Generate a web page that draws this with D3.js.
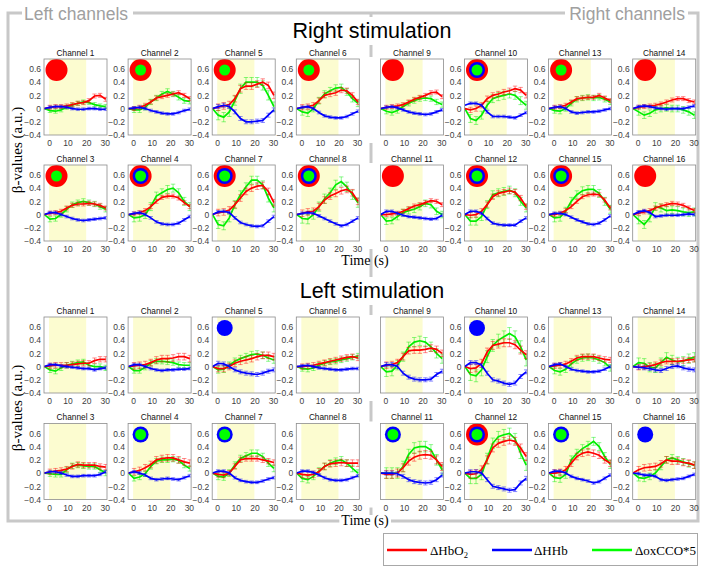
<!DOCTYPE html>
<html><head><meta charset="utf-8">
<script src="https://cdn.jsdelivr.net/npm/d3@7"></script>
<style>body{margin:0;background:#fff}svg{display:block}</style>
</head><body>
<script>
// ---------------- data ----------------
const times = [-2.5, 0.5, 3.5, 6.5, 9.5, 12.5, 15.5, 18.5, 21.5, 24.5, 27.5, 30.5];
const xTicks = [0, 10, 20, 30];
const yTicks = [-0.4, -0.2, 0, 0.2, 0.4, 0.6];
const stimWindow = [0, 20];
const row1Channels = [1, 2, 5, 6, 9, 10, 13, 14];
const row2Channels = [3, 4, 7, 8, 11, 12, 15, 16];
const seriesNames = ["ΔHbO2", "ΔHHb", "ΔoxCCO*5"];

// channel order 1..16
const rightHbO2 = [
 [0,0.02,0.03,0.03,0.04,0.06,0.08,0.09,0.12,0.19,0.2,0.14],
 [0,0.0,0.02,0.05,0.1,0.16,0.18,0.2,0.22,0.24,0.2,0.15],
 [0,0.02,0.03,0.05,0.1,0.14,0.16,0.16,0.17,0.16,0.14,0.1],
 [0,0.01,0.03,0.06,0.12,0.2,0.26,0.28,0.28,0.25,0.18,0.12],
 [0,0.02,0.04,0.06,0.15,0.3,0.34,0.34,0.37,0.4,0.35,0.2],
 [0,0.02,0.03,0.05,0.12,0.2,0.22,0.24,0.28,0.27,0.2,0.1],
 [0,0.03,0.04,0.07,0.15,0.25,0.35,0.4,0.43,0.44,0.35,0.18],
 [0,0.02,0.04,0.05,0.12,0.22,0.28,0.32,0.36,0.38,0.33,0.2],
 [0,0.02,0.03,0.04,0.06,0.1,0.14,0.17,0.2,0.24,0.25,0.18],
 [0,-0.02,0.0,0.05,0.15,0.2,0.22,0.25,0.27,0.3,0.28,0.2],
 [0,0.0,0.01,0.02,0.05,0.09,0.13,0.15,0.18,0.21,0.2,0.15],
 [0,-0.01,0.0,0.05,0.15,0.27,0.32,0.34,0.36,0.34,0.25,0.12],
 [0,0.02,0.03,0.05,0.1,0.15,0.16,0.17,0.17,0.2,0.16,0.12],
 [0,0.02,0.03,0.04,0.05,0.07,0.1,0.13,0.15,0.15,0.12,0.1],
 [0,0.0,0.02,0.06,0.12,0.2,0.27,0.3,0.31,0.3,0.22,0.1],
 [0,0.02,0.04,0.06,0.1,0.13,0.15,0.17,0.16,0.14,0.1,0.06]
];
const rightHHb = [
 [0,0.02,0.03,0.03,0.02,0.0,-0.01,-0.01,0,0,-0.01,-0.01],
 [0,0.01,0.02,0,-0.03,-0.05,-0.07,-0.08,-0.08,-0.06,-0.03,-0.01],
 [0,0.03,0.03,0.0,-0.03,-0.06,-0.08,-0.09,-0.08,-0.07,-0.06,-0.05],
 [0,0.02,0.03,0.0,-0.05,-0.11,-0.14,-0.15,-0.15,-0.13,-0.08,-0.03],
 [0,0.03,0.05,0.03,-0.05,-0.15,-0.2,-0.2,-0.19,-0.18,-0.1,-0.02],
 [0,0.02,0.03,0.0,-0.06,-0.11,-0.13,-0.14,-0.14,-0.12,-0.08,-0.04],
 [0,0.04,0.05,0.03,-0.05,-0.12,-0.15,-0.17,-0.18,-0.17,-0.1,-0.03],
 [0,0.02,0.03,0.02,-0.02,-0.06,-0.1,-0.14,-0.17,-0.15,-0.1,-0.05],
 [0,0.02,0.03,0.01,-0.02,-0.05,-0.07,-0.08,-0.09,-0.08,-0.05,-0.02],
 [0.05,0.08,0.08,0.05,-0.05,-0.12,-0.12,-0.12,-0.13,-0.14,-0.1,-0.06],
 [0,0.05,0.05,0.02,-0.01,-0.03,-0.04,-0.05,-0.06,-0.07,-0.06,-0.01],
 [0,0.05,0.05,0.02,-0.06,-0.13,-0.15,-0.16,-0.16,-0.16,-0.1,-0.05],
 [0,0.02,0.03,0.0,-0.05,-0.07,-0.06,-0.05,-0.05,-0.04,-0.02,0.0],
 [0,0.03,0.04,0.03,0.01,0,-0.01,0.0,0.0,0.0,0.02,0.04],
 [0,0.02,0.02,0.0,-0.04,-0.08,-0.11,-0.14,-0.15,-0.13,-0.08,-0.02],
 [0,0.04,0.06,0.03,-0.03,-0.02,-0.01,-0.01,-0.01,0.0,0.01,0.0]
];
const rightOxCCO = [
 [0,-0.03,-0.04,-0.02,0.02,0.05,0.08,0.1,0.09,0.06,0.04,0.03],
 [0,-0.02,-0.02,0.02,0.1,0.16,0.22,0.26,0.22,0.17,0.12,0.11],
 [0,-0.07,-0.06,0.0,0.08,0.15,0.18,0.2,0.18,0.16,0.12,0.08],
 [0,-0.05,-0.04,0.0,0.12,0.28,0.33,0.38,0.4,0.33,0.2,0.12],
 [0,-0.1,-0.13,-0.05,0.12,0.3,0.4,0.4,0.4,0.35,0.2,0.03],
 [0,-0.05,-0.07,0,0.12,0.22,0.27,0.31,0.32,0.25,0.15,0.08],
 [0,-0.15,-0.17,-0.05,0.15,0.3,0.42,0.52,0.52,0.45,0.25,0.1],
 [0,-0.06,-0.07,0.0,0.12,0.24,0.33,0.45,0.5,0.42,0.3,0.18],
 [0,-0.04,-0.06,-0.03,0.03,0.08,0.12,0.15,0.16,0.15,0.1,0.06],
 [0,-0.15,-0.18,-0.1,0.05,0.15,0.18,0.2,0.22,0.2,0.12,0.05],
 [0,-0.1,-0.09,-0.03,0.03,0.06,0.08,0.12,0.17,0.15,0.05,0.0],
 [0,-0.1,-0.1,-0.03,0.15,0.3,0.33,0.35,0.37,0.33,0.2,0.1],
 [0,-0.03,-0.04,0.0,0.08,0.14,0.16,0.17,0.16,0.17,0.14,0.1],
 [0,-0.05,-0.1,-0.07,-0.02,0.0,0.01,0.0,0.0,-0.02,-0.05,-0.1],
 [0,-0.05,-0.04,0.05,0.2,0.3,0.36,0.38,0.38,0.32,0.2,0.08],
 [0,-0.08,-0.15,-0.05,0.12,0.1,0.06,0.07,0.06,0.04,0.03,0.04]
];
const leftHbO2 = [
 [0,0.01,0.02,0.02,0.02,0.03,0.04,0.05,0.05,0.09,0.11,0.11],
 [0,0.01,0.02,0.03,0.06,0.1,0.12,0.12,0.13,0.15,0.15,0.12],
 [0,0.02,0.03,0.04,0.06,0.1,0.13,0.12,0.12,0.12,0.1,0.09],
 [0,0.02,0.04,0.08,0.13,0.2,0.22,0.23,0.23,0.2,0.17,0.15],
 [0,-0.03,-0.03,0.0,0.05,0.08,0.1,0.12,0.15,0.17,0.17,0.15],
 [0,0.0,0.01,0.02,0.04,0.06,0.08,0.1,0.12,0.14,0.15,0.13],
 [0,-0.02,-0.03,0.0,0.1,0.2,0.22,0.22,0.22,0.2,0.18,0.16],
 [0,-0.02,-0.03,-0.02,0.02,0.1,0.14,0.15,0.16,0.15,0.15,0.15],
 [0,0.02,0.03,0.06,0.15,0.24,0.25,0.25,0.26,0.28,0.26,0.2],
 [0,-0.03,-0.02,0.05,0.22,0.32,0.34,0.36,0.36,0.33,0.25,0.18],
 [0,-0.02,-0.02,0.0,0.08,0.18,0.24,0.27,0.28,0.27,0.2,0.1],
 [0,-0.02,-0.01,0.05,0.2,0.38,0.45,0.48,0.5,0.48,0.38,0.25],
 [0,0.01,0.02,0.04,0.08,0.13,0.15,0.15,0.15,0.13,0.11,0.1],
 [0,-0.01,0.0,0.01,0.03,0.06,0.08,0.08,0.08,0.09,0.1,0.11],
 [0,0.0,0.01,0.05,0.15,0.25,0.3,0.32,0.3,0.27,0.2,0.15],
 [0,0.05,0.08,0.09,0.1,0.14,0.2,0.18,0.18,0.16,0.15,0.12]
];
const leftHHb = [
 [0,0.03,0.03,0.01,0.0,-0.01,-0.02,-0.03,-0.03,-0.05,-0.03,-0.02],
 [0,0.03,0.03,0.0,-0.03,-0.05,-0.06,-0.05,-0.05,-0.04,-0.04,-0.03],
 [0,0.02,0.02,0.0,-0.03,-0.05,-0.05,-0.04,-0.04,-0.04,-0.02,0.02],
 [0,0.02,0.0,-0.03,-0.08,-0.1,-0.09,-0.08,-0.09,-0.1,-0.07,-0.04],
 [0,0.05,0.04,0.0,-0.05,-0.08,-0.1,-0.11,-0.12,-0.1,-0.07,-0.05],
 [0,0.01,0.02,0.0,-0.02,-0.03,-0.04,-0.05,-0.05,-0.04,-0.03,-0.03],
 [0,0.03,0.03,0.0,-0.07,-0.11,-0.13,-0.14,-0.14,-0.12,-0.09,-0.07],
 [0,0.03,0.03,0.01,-0.03,-0.07,-0.1,-0.11,-0.11,-0.1,-0.07,-0.04],
 [0,0.03,0.03,0.0,-0.1,-0.16,-0.19,-0.2,-0.2,-0.19,-0.12,-0.07],
 [0,0.06,0.06,0.02,-0.1,-0.2,-0.22,-0.25,-0.27,-0.25,-0.15,-0.08],
 [0,0.0,0.0,-0.01,-0.05,-0.1,-0.13,-0.14,-0.15,-0.14,-0.1,-0.03],
 [0,0.02,0.02,0.0,-0.1,-0.2,-0.22,-0.24,-0.26,-0.25,-0.15,-0.08],
 [0,0.03,0.04,0.0,-0.04,-0.06,-0.07,-0.08,-0.08,-0.07,-0.04,0.0],
 [0,-0.01,-0.02,-0.03,-0.05,-0.06,-0.03,0.0,0.01,-0.02,-0.04,-0.05],
 [0,0.03,0.03,0.0,-0.05,-0.08,-0.1,-0.12,-0.15,-0.13,-0.08,-0.03],
 [0,-0.01,-0.03,-0.03,-0.05,-0.1,-0.11,-0.1,-0.09,-0.08,-0.05,-0.02]
];
const leftOxCCO = [
 [0,-0.05,-0.07,-0.02,0.02,0.04,0.06,0.07,0.02,0.0,0.0,-0.02],
 [0,-0.06,-0.06,-0.01,0.05,0.08,0.08,0.07,0.06,0.03,0.02,0.02],
 [0,-0.01,-0.02,-0.02,0.05,0.11,0.12,0.11,0.1,0.1,0.05,0.0],
 [0,-0.08,-0.06,-0.01,0.1,0.18,0.2,0.2,0.21,0.19,0.12,0.07],
 [0,-0.05,-0.04,0.02,0.08,0.12,0.15,0.18,0.19,0.17,0.13,0.1],
 [0,-0.03,-0.04,-0.02,0.02,0.05,0.07,0.08,0.1,0.12,0.14,0.16],
 [0,-0.05,-0.06,0.0,0.12,0.22,0.26,0.3,0.3,0.25,0.15,0.07],
 [0,-0.08,-0.1,-0.05,0.03,0.1,0.15,0.18,0.2,0.15,0.07,0.0],
 [0,-0.08,-0.07,0.02,0.15,0.3,0.37,0.39,0.37,0.3,0.2,0.12],
 [0,-0.12,-0.14,-0.05,0.15,0.32,0.4,0.45,0.5,0.45,0.3,0.1],
 [0,0.0,0.0,0.0,0.1,0.28,0.38,0.4,0.4,0.35,0.2,0.05],
 [0,-0.08,-0.08,-0.02,0.22,0.45,0.55,0.58,0.6,0.52,0.3,0.12],
 [0,-0.06,-0.08,-0.04,0.04,0.1,0.13,0.14,0.13,0.1,0.06,-0.02],
 [0,0.06,0.05,-0.01,-0.02,0.06,0.14,0.1,0.07,0.08,0.12,0.14],
 [0,-0.07,-0.08,-0.02,0.2,0.3,0.37,0.42,0.48,0.4,0.25,0.13],
 [0,-0.07,-0.08,-0.05,0.0,0.1,0.2,0.23,0.2,0.17,0.14,0.12]
];
// error bar half-widths per channel (1..16)
const rightErrHbO2  = [0.03,0.03,0.03,0.03,0.05,0.04,0.05,0.05,0.03,0.04,0.03,0.04,0.03,0.03,0.03,0.03];
const rightErrHHb   = [0.02,0.02,0.02,0.02,0.03,0.02,0.02,0.02,0.02,0.02,0.02,0.02,0.02,0.02,0.02,0.02];
const rightErrOxCCO = [0.03,0.04,0.04,0.06,0.07,0.05,0.06,0.07,0.04,0.06,0.05,0.06,0.04,0.05,0.06,0.06];
const leftErrHbO2   = [0.04,0.05,0.04,0.05,0.05,0.04,0.04,0.05,0.05,0.06,0.06,0.06,0.04,0.04,0.05,0.05];
const leftErrHHb    = [0.02,0.02,0.02,0.02,0.03,0.02,0.02,0.02,0.03,0.03,0.03,0.03,0.02,0.03,0.02,0.02];
const leftErrOxCCO  = [0.04,0.04,0.04,0.04,0.05,0.04,0.05,0.05,0.07,0.09,0.08,0.08,0.05,0.07,0.06,0.05];
// significance markers per channel: r = HbO2, b = HHb, g = oxCCO
const rightMarkers = ["r","rg","rg","rbg","rg","rg","rbg","rbg","r","rbg","r","rbg","rg","r","rbg","r"];
const leftMarkers  = ["","","","bg","b","","bg","","","b","bg","rbg","","","bg","b"];

// ---------------- layout ----------------
const W = 708, H = 573;
const colors = ["#ff0000", "#0000ff", "#00ee00"];
const colLeft0 = 44, colStep = 84.1, pw = 63, ph = 76;
const rowTops = [59, 165, 317, 423.5];
const svg = d3.select("body").append("svg").attr("width", W).attr("height", H)
  .style("font-family", "'Liberation Sans', Arial, sans-serif");
svg.append("rect").attr("width", W).attr("height", H).attr("fill", "#fff");

const x = d3.scaleLinear().domain([-2.7, 31.2]).range([0, pw]);
const y = d3.scaleLinear().domain([-0.4, 0.75]).range([ph, 0]);

// frame
const frameCol = "#c8c8c8";
svg.append("path").attr("d", "M22,13 H8 V521 H698 V13 H688").attr("fill", "none")
  .attr("stroke", frameCol).attr("stroke-width", 3);
svg.append("path").attr("d", "M133,13 H565").attr("fill", "none")
  .attr("stroke", frameCol).attr("stroke-width", 3);
// divider between left and right channels (visible in gaps)
const hidden = [[17, 45], [277, 305]].concat(rowTops.map(t => [t - 2, t + ph + 8]));
hidden.sort((a, b) => a[0] - b[0]);
let cur = 13;
hidden.forEach(([a, b]) => {
  if (a > cur) svg.append("line").attr("x1", 371).attr("x2", 371).attr("y1", cur).attr("y2", a)
    .attr("stroke", frameCol).attr("stroke-width", 3);
  cur = Math.max(cur, b);
});
svg.append("line").attr("x1", 371).attr("x2", 371).attr("y1", cur).attr("y2", 521)
  .attr("stroke", frameCol).attr("stroke-width", 3);

svg.append("text").attr("x", 24).attr("y", 19.5).text("Left channels")
  .attr("font-size", 17.5).attr("fill", "#a0a0a0");
svg.append("text").attr("x", 685).attr("y", 19.5).attr("text-anchor", "end").text("Right channels")
  .attr("font-size", 17.5).attr("fill", "#a0a0a0");

svg.append("text").attr("x", 372).attr("y", 38).attr("text-anchor", "middle")
  .text("Right stimulation").attr("font-size", 21.5).attr("fill", "#000");
svg.append("text").attr("x", 372).attr("y", 298).attr("text-anchor", "middle")
  .text("Left stimulation").attr("font-size", 21.5).attr("fill", "#000");

const serif = "'Liberation Serif', 'Times New Roman', serif";
const timeLabels = [];
[[265, 150], [525, 408]].forEach(([ty, by]) => {
  timeLabels.push(svg.append("text").attr("x", 365).attr("y", ty).attr("text-anchor", "middle")
    .attr("font-family", serif).attr("font-size", 14).attr("fill", "#000").text("Time (s)"));
  svg.append("text").attr("transform", `translate(22,${by}) rotate(-90)`).attr("text-anchor", "middle")
    .attr("font-family", serif).attr("font-size", 15).attr("fill", "#000").text("β-values (a.u.)");
});
// white behind bottom "Time (s)" where it sits on the frame
{
  const node = timeLabels[1].node();
  const bb = node.getBBox();
  svg.insert("rect", () => node).attr("x", bb.x - 2).attr("y", bb.y + 2).attr("width", bb.width + 4)
    .attr("height", bb.height - 3).attr("fill", "#fff");
}

let clipId = 0;
function panel(stim, rowIdx, colIdx, ch) {
  const data = stim === "right" ? [rightHbO2, rightHHb, rightOxCCO] : [leftHbO2, leftHHb, leftOxCCO];
  const errs = stim === "right" ? [rightErrHbO2, rightErrHHb, rightErrOxCCO] : [leftErrHbO2, leftErrHHb, leftErrOxCCO];
  const marks = stim === "right" ? rightMarkers : leftMarkers;
  const left = colLeft0 + colStep * colIdx;
  const top = rowTops[rowIdx];
  const g = svg.append("g").attr("transform", `translate(${left},${top})`);
  g.append("rect").attr("width", pw).attr("height", ph).attr("fill", "#fff");
  g.append("rect").attr("x", x(stimWindow[0])).attr("width", x(stimWindow[1]) - x(stimWindow[0]))
    .attr("height", ph).attr("fill", "#fcfcd0");
  const id = "clip" + (clipId++);
  g.append("clipPath").attr("id", id).append("rect").attr("width", pw).attr("height", ph);
  const inner = g.append("g").attr("clip-path", `url(#${id})`);
  const line = d3.line().x((d, i) => x(times[i])).y(d => y(d));
  [2, 0, 1].forEach(s => {
    const vals = data[s][ch - 1];
    const e = errs[s][ch - 1];
    const eg = inner.append("g").attr("stroke", colors[s]).attr("stroke-opacity", 0.5).attr("stroke-width", 0.9);
    vals.forEach((v, i) => {
      if (i === 0) return;
      const cx = x(times[i]);
      eg.append("line").attr("x1", cx).attr("x2", cx).attr("y1", y(v - e)).attr("y2", y(v + e));
      eg.append("line").attr("x1", cx - 2.2).attr("x2", cx + 2.2).attr("y1", y(v - e)).attr("y2", y(v - e));
      eg.append("line").attr("x1", cx - 2.2).attr("x2", cx + 2.2).attr("y1", y(v + e)).attr("y2", y(v + e));
    });
    inner.append("path").datum(vals).attr("d", line).attr("fill", "none")
      .attr("stroke", colors[s]).attr("stroke-width", 1.7);
  });
  // markers
  const m = marks[ch - 1];
  const cx = 12.5, cy = 11;
  if (m.includes("r")) g.append("circle").attr("cx", cx).attr("cy", cy).attr("r", 11).attr("fill", "#ff0000");
  if (m.includes("b")) g.append("circle").attr("cx", cx).attr("cy", cy).attr("r", 8).attr("fill", "#0000ff");
  if (m.includes("g")) g.append("circle").attr("cx", cx).attr("cy", cy).attr("r", 5.5).attr("fill", "#00ff00");
  g.append("rect").attr("width", pw).attr("height", ph).attr("fill", "none")
    .attr("stroke", "#8c8c8c").attr("stroke-width", 0.8);
  // axes
  const xa = d3.axisBottom(x).tickValues(xTicks).tickSize(0).tickPadding(5).tickFormat(d3.format("d"));
  const xg = g.append("g").attr("transform", `translate(0,${ph})`).call(xa);
  xg.select(".domain").remove();
  xg.selectAll("text").attr("font-size", 8.5).attr("fill", "#404040").attr("font-family", null);
  if (colIdx !== 4) {
    const ya = d3.axisLeft(y).tickValues(yTicks).tickSize(0).tickPadding(3)
      .tickFormat(d => d === 0 ? "0" : d3.format(".1f")(d));
    const yg = g.append("g").call(ya);
    yg.select(".domain").remove();
    yg.selectAll("text").attr("font-size", 8.5).attr("fill", "#404040").attr("font-family", null);
  }
  g.append("text").attr("x", pw / 2).attr("y", -3.5).attr("text-anchor", "middle")
    .attr("font-size", 8.3).attr("fill", "#111").text("Channel " + ch);
}
[["right", 0], ["left", 2]].forEach(([stim, r0]) => {
  row1Channels.forEach((ch, i) => panel(stim, r0, i, ch));
  row2Channels.forEach((ch, i) => panel(stim, r0 + 1, i, ch));
});

// legend
const lg = svg.append("g");
lg.append("rect").attr("x", 383.5).attr("y", 533.5).attr("width", 314).attr("height", 32)
  .attr("fill", "#fff").attr("stroke", "#a8a8a8").attr("stroke-width", 1);
const legendItems = [[387, 430], [492, 534], [592, 635]];
legendItems.forEach(([lx, tx], i) => {
  lg.append("line").attr("x1", lx).attr("x2", lx + 40).attr("y1", 550).attr("y2", 550)
    .attr("stroke", i === 2 ? "#00ff00" : colors[i]).attr("stroke-width", 2.5);
  const t = lg.append("text").attr("x", tx).attr("y", 555).attr("font-family", serif)
    .attr("font-size", 13).attr("fill", "#000");
  if (i === 0) {
    t.append("tspan").text("ΔHbO");
    t.append("tspan").attr("font-size", 8.5).attr("dy", 3).text("2");
  } else t.text(seriesNames[i]);
});
</script>
</body></html>
